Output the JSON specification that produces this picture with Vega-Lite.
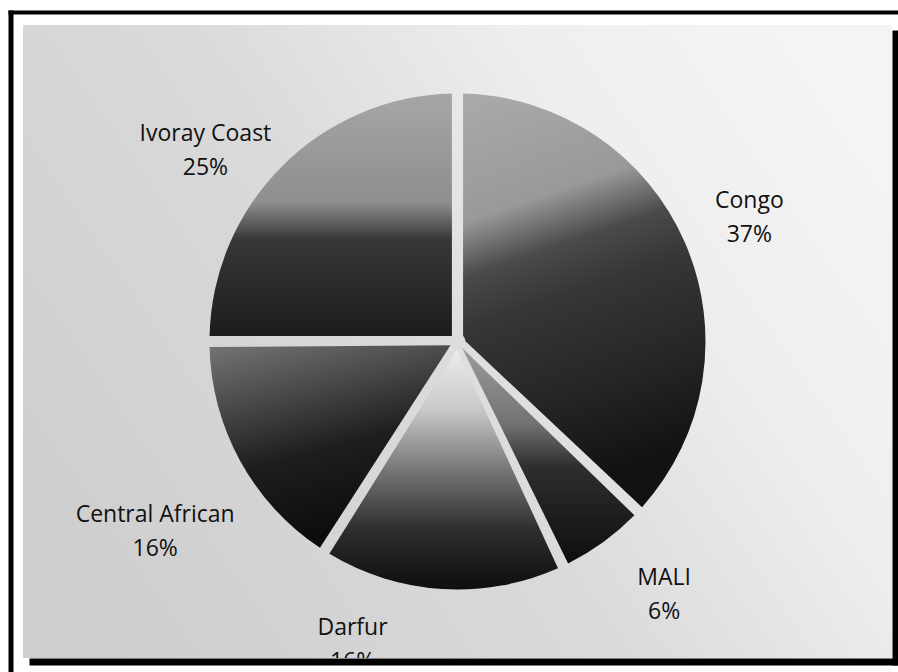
{
  "$schema": "https://vega.github.io/schema/vega-lite/v6.json",
  "width": 869,
  "height": 633,
  "autosize": {"type": "none"},
  "padding": {"left": 23, "top": 25, "right": 6, "bottom": 14},
  "background": "white",
  "config": {
    "view": {
      "stroke": null,
      "fill": {
        "gradient": "linear", "x1": 0, "y1": 0.75, "x2": 1, "y2": 0.25,
        "stops": [
          {"offset": 0, "color": "#cecece"},
          {"offset": 0.45, "color": "#dadada"},
          {"offset": 0.75, "color": "#eeeeee"},
          {"offset": 1, "color": "#f4f4f4"}
        ]
      }
    }
  },
  "data": {
    "values": [
      {"country": "Congo", "value": 37},
      {"country": "MALI", "value": 6},
      {"country": "Darfur", "value": 16},
      {"country": "Central African", "value": 16},
      {"country": "Ivoray Coast", "value": 25}
    ]
  },
  "layer": [
    {
      "mark": {"type": "arc", "outerRadius": 248, "innerRadius": 8, "padAngle": 0.045,
        "fill": {"gradient": "linear", "x1": 0, "y1": 0, "x2": 0.2, "y2": 1, "stops": [
          {"offset": 0, "color": "#aaaaaa"}, {"offset": 0.3, "color": "#999999"},
          {"offset": 0.43, "color": "#4a4a4a"}, {"offset": 0.55, "color": "#363636"},
          {"offset": 0.8, "color": "#242424"}, {"offset": 1, "color": "#121212"}]}},
      "encoding": {
        "theta": {"field": "value", "type": "quantitative", "stack": true},
        "fillOpacity": {"condition": {"test": "datum.country === 'Congo'", "value": 1}, "value": 0}
      }
    },
    {
      "mark": {"type": "arc", "outerRadius": 248, "innerRadius": 8, "padAngle": 0.045,
        "fill": {"gradient": "linear", "x1": 0, "y1": 0, "x2": 0, "y2": 1, "stops": [
          {"offset": 0, "color": "#9c9c9c"}, {"offset": 0.35, "color": "#727272"},
          {"offset": 0.55, "color": "#2e2e2e"}, {"offset": 1, "color": "#0e0e0e"}]}},
      "encoding": {
        "theta": {"field": "value", "type": "quantitative", "stack": true},
        "fillOpacity": {"condition": {"test": "datum.country === 'MALI'", "value": 1}, "value": 0}
      }
    },
    {
      "mark": {"type": "arc", "outerRadius": 248, "innerRadius": 8, "padAngle": 0.045,
        "fill": {"gradient": "linear", "x1": 0, "y1": 0, "x2": 0, "y2": 1, "stops": [
          {"offset": 0, "color": "#ececec"}, {"offset": 0.25, "color": "#c8c8c8"},
          {"offset": 0.5, "color": "#777777"}, {"offset": 0.75, "color": "#2e2e2e"},
          {"offset": 1, "color": "#0e0e0e"}]}},
      "encoding": {
        "theta": {"field": "value", "type": "quantitative", "stack": true},
        "fillOpacity": {"condition": {"test": "datum.country === 'Darfur'", "value": 1}, "value": 0}
      }
    },
    {
      "mark": {"type": "arc", "outerRadius": 248, "innerRadius": 8, "padAngle": 0.045,
        "fill": {"gradient": "linear", "x1": 0, "y1": 0, "x2": 0.3, "y2": 1, "stops": [
          {"offset": 0, "color": "#747474"}, {"offset": 0.3, "color": "#4a4a4a"},
          {"offset": 0.6, "color": "#1e1e1e"}, {"offset": 1, "color": "#0c0c0c"}]}},
      "encoding": {
        "theta": {"field": "value", "type": "quantitative", "stack": true},
        "fillOpacity": {"condition": {"test": "datum.country === 'Central African'", "value": 1}, "value": 0}
      }
    },
    {
      "mark": {"type": "arc", "outerRadius": 248, "innerRadius": 8, "padAngle": 0.045,
        "fill": {"gradient": "linear", "x1": 0, "y1": 0, "x2": 0, "y2": 1, "stops": [
          {"offset": 0, "color": "#a6a6a6"}, {"offset": 0.45, "color": "#8e8e8e"},
          {"offset": 0.6, "color": "#383838"}, {"offset": 1, "color": "#1c1c1c"}]}},
      "encoding": {
        "theta": {"field": "value", "type": "quantitative", "stack": true},
        "fillOpacity": {"condition": {"test": "datum.country === 'Ivoray Coast'", "value": 1}, "value": 0}
      }
    },
    {
      "transform": [{"window": [{"op": "row_number", "as": "idx"}]}, {"calculate": "[datum.country, datum.value + '%']", "as": "label"}],
      "mark": {"type": "text", "radius": 318, "dy": -14, "font": "Open Sans", "fontSize": 23, "lineHeight": 34, "color": "#111111", "align": "center", "baseline": "middle", "clip": true},
      "encoding": {
        "theta": {"field": "value", "type": "quantitative", "stack": true},
        "order": {"field": "idx", "type": "quantitative"},
        "text": {"condition": {"test": "datum.country === 'Congo'", "field": "label"}, "value": ""}
      }
    },
    {
      "transform": [{"window": [{"op": "row_number", "as": "idx"}]}, {"calculate": "[datum.country, datum.value + '%']", "as": "label"}],
      "mark": {"type": "text", "radius": 321, "dx": 18, "dy": -23, "font": "Open Sans", "fontSize": 23, "lineHeight": 34, "color": "#111111", "align": "center", "baseline": "middle", "clip": true},
      "encoding": {
        "theta": {"field": "value", "type": "quantitative", "stack": true},
        "order": {"field": "idx", "type": "quantitative"},
        "text": {"condition": {"test": "datum.country === 'MALI'", "field": "label"}, "value": ""}
      }
    },
    {
      "transform": [{"window": [{"op": "row_number", "as": "idx"}]}, {"calculate": "[datum.country, datum.value + '%']", "as": "label"}],
      "mark": {"type": "text", "radius": 302, "dx": -86, "dy": -15, "font": "Open Sans", "fontSize": 23, "lineHeight": 34, "color": "#111111", "align": "center", "baseline": "middle", "clip": true},
      "encoding": {
        "theta": {"field": "value", "type": "quantitative", "stack": true},
        "order": {"field": "idx", "type": "quantitative"},
        "text": {"condition": {"test": "datum.country === 'Darfur'", "field": "label"}, "value": ""}
      }
    },
    {
      "transform": [{"window": [{"op": "row_number", "as": "idx"}]}, {"calculate": "[datum.country, datum.value + '%']", "as": "label"}],
      "mark": {"type": "text", "radius": 345, "dx": 0, "dy": 7, "font": "Open Sans", "fontSize": 23, "lineHeight": 34, "color": "#111111", "align": "center", "baseline": "middle", "clip": true},
      "encoding": {
        "theta": {"field": "value", "type": "quantitative", "stack": true},
        "order": {"field": "idx", "type": "quantitative"},
        "text": {"condition": {"test": "datum.country === 'Central African'", "field": "label"}, "value": ""}
      }
    },
    {
      "transform": [{"window": [{"op": "row_number", "as": "idx"}]}, {"calculate": "[datum.country, datum.value + '%']", "as": "label"}],
      "mark": {"type": "text", "radius": 314, "dx": -30, "dy": 15, "font": "Open Sans", "fontSize": 23, "lineHeight": 34, "color": "#111111", "align": "center", "baseline": "middle", "clip": true},
      "encoding": {
        "theta": {"field": "value", "type": "quantitative", "stack": true},
        "order": {"field": "idx", "type": "quantitative"},
        "text": {"condition": {"test": "datum.country === 'Ivoray Coast'", "field": "label"}, "value": ""}
      }
    },
    {
      "data": {"values": [{"fx": 0, "fy": 0}, {"fx": 1, "fy": 1}]},
      "mark": {"type": "point", "opacity": 0},
      "encoding": {
        "x": {"field": "fx", "type": "quantitative",
          "scale": {"domain": [0, 1], "range": [-15, 875], "nice": false, "zero": false},
          "axis": {"orient": "top", "offset": 13, "domainColor": "#000000", "domainWidth": 4, "ticks": false, "labels": false, "grid": false, "title": null, "zindex": 1}},
        "y": {"field": "fy", "type": "quantitative",
          "scale": {"domain": [0, 1], "range": [647, -15], "nice": false, "zero": false},
          "axis": {"orient": "left", "offset": 12.5, "domainColor": "#000000", "domainWidth": 5, "ticks": false, "labels": false, "grid": false, "title": null, "zindex": 1}}
      }
    },
    {
      "data": {"values": [{"gx": 0, "gy": 0}, {"gx": 1, "gy": 1}]},
      "mark": {"type": "point", "opacity": 0},
      "encoding": {
        "x": {"field": "gx", "type": "quantitative",
          "scale": {"domain": [0, 1], "range": [6, 875], "nice": false, "zero": false},
          "axis": {"orient": "bottom", "offset": 3.5, "domainColor": "#000000", "domainWidth": 7, "ticks": false, "labels": false, "grid": false, "title": null, "zindex": 1}},
        "y": {"field": "gy", "type": "quantitative",
          "scale": {"domain": [0, 1], "range": [640, 5], "nice": false, "zero": false},
          "axis": {"orient": "right", "offset": 3, "domainColor": "#000000", "domainWidth": 6, "ticks": false, "labels": false, "grid": false, "title": null, "zindex": 1}}
      }
    }
  ],
  "resolve": {"scale": {"x": "independent", "y": "independent"}}
}
